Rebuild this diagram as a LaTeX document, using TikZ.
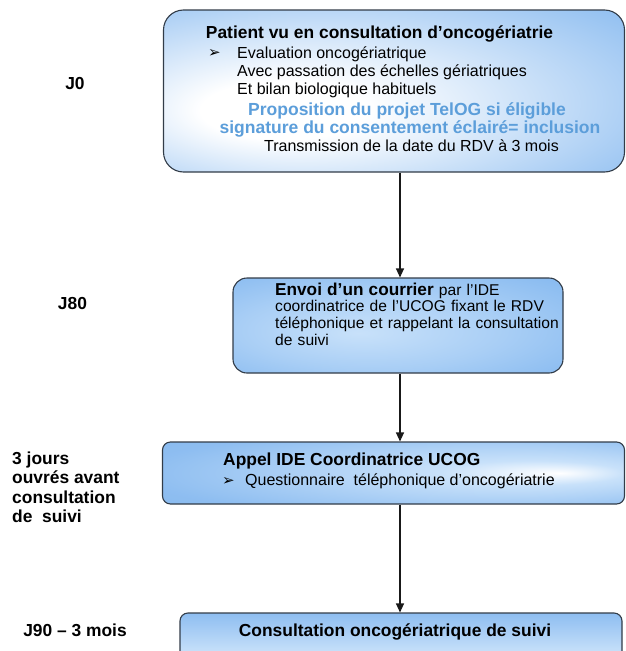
\documentclass[tikz,border=0pt]{standalone}
\usepackage{fontspec}
\setmainfont{Liberation Sans}
\newfontfamily\dejavu{DejaVu Sans}
\usetikzlibrary{arrows.meta}
\definecolor{boxblue}{RGB}{122,178,238}
\definecolor{boxlight}{RGB}{200,225,250}
\definecolor{bordercol}{RGB}{50,60,72}
\definecolor{bluetxt}{RGB}{92,158,218}
\pgfdeclareradialshading{glowA}{\pgfpoint{-14bp}{-7bp}}{color(0bp)=(white);color(9bp)=(white);color(40bp)=(boxblue!82!white);color(62bp)=(boxblue)}
\pgfdeclareradialshading{glowB}{\pgfpoint{-6bp}{-4bp}}{color(0bp)=(boxlight);color(20bp)=(boxlight!60!boxblue);color(45bp)=(boxblue);color(60bp)=(boxblue)}
\pgfdeclareradialshading{glowC}{\pgfpoint{18bp}{0bp}}{color(0bp)=(white);color(10bp)=(boxlight);color(35bp)=(boxblue!85!white);color(60bp)=(boxblue)}
\tikzset{
  flowbox/.style={draw=bordercol, line width=1.1pt, inner sep=0pt, shade},
  lbl/.style={font=\fontsize{17.4}{20}\selectfont\bfseries, inner sep=0pt},
  regtxt/.style={font=\fontsize{16}{18}\selectfont, inner sep=0pt},
  boldtxt/.style={font=\fontsize{17.4}{20}\selectfont\bfseries, inner sep=0pt},
  bluetext/.style={font=\fontsize{17.5}{20}\selectfont\bfseries, text=bluetxt, inner sep=0pt},
  bul/.style={font=\dejavu\bfseries\fontsize{15}{15}\selectfont, inner sep=0pt},
  flowarrow/.style={draw=black!90, line width=1.1pt, -{Triangle[length=9pt,width=8pt]}}
}
\begin{document}
\begin{tikzpicture}[x=1pt,y=-1pt]
\useasboundingbox (0,0) rectangle (626,651);
\clip (0,0) rectangle (626,651);

% boxes
\node[flowbox, shading=glowA, rounded corners=20pt, minimum width=461pt, minimum height=162pt] (b1) at (394,91) {};
\node[flowbox, shading=glowB, rounded corners=14pt, minimum width=330pt, minimum height=95pt] (b2) at (398,325.5) {};
\node[flowbox, shading=glowC, rounded corners=8pt, minimum width=462pt, minimum height=62pt] (b3) at (393.5,473) {};
\node[flowbox, top color=boxblue!85!white, bottom color=boxblue!60!white, middle color=boxlight, rounded corners=8pt, minimum width=442pt, minimum height=80pt] (b4) at (401,653) {};

% box 1 text
\node[boldtxt, anchor=base] (t1a) at (379.5,38) {Patient vu en consultation d’oncogériatrie};
\node[bul, anchor=base west] (t1b0) at (208,57.5) {➢};
\node[regtxt, anchor=base west] (t1b) at (237,58) {Evaluation oncogériatrique};
\node[regtxt, anchor=base west] (t1c) at (237,76.5) {Avec passation des échelles gériatriques};
\node[regtxt, anchor=base west] (t1d) at (237,94) {Et bilan biologique habituels};
\node[bluetext, anchor=base] (t1e) at (407,115) {Proposition du projet TelOG si éligible};
\node[bluetext, anchor=base] (t1f) at (410,133) {signature du consentement éclairé= inclusion};
\node[regtxt, anchor=base] (t1g) at (411.5,151.5) {Transmission de la date du RDV à 3 mois};

% box 2 text
\node[anchor=base west, inner sep=0pt, font=\fontsize{15.6}{16.8}\selectfont, align=left, text width=300pt] (t2) at (275,295) {{\fontsize{17.2}{16.8}\selectfont\bfseries Envoi d’un courrier} par l’IDE\\coordinatrice de l’UCOG fixant le RDV\\téléphonique et rappelant la consultation\\de suivi};

% box 3 text
\node[boldtxt, anchor=base west] (t3a) at (223,465) {Appel IDE Coordinatrice UCOG};
\node[bul, anchor=base west] (t3b0) at (222,485) {➢};
\node[regtxt, anchor=base west] (t3b) at (245,485.5) {Questionnaire\ \ téléphonique d’oncogériatrie};

% box 4 text
\node[boldtxt, anchor=base] (t4) at (395,636) {Consultation oncogériatrique de suivi};

% left labels
\node[lbl, anchor=base] (l0) at (75,89) {J0};
\node[lbl, anchor=base] (l80) at (72.5,309) {J80};
\node[lbl, anchor=base west] (l3a) at (12,464) {3 jours};
\node[lbl, anchor=base west] (l3b) at (12,483.5) {ouvrés avant};
\node[lbl, anchor=base west] (l3c) at (12,503) {consultation};
\node[lbl, anchor=base west] (l3d) at (12,522.5) {de\ \ suivi};
\node[lbl, anchor=base] (l90) at (75,636) {J90 – 3 mois};

% connectors
\coordinate (ax) at (400,0);
\draw[flowarrow] (b1.south -| ax) -- (b2.north -| ax);
\draw[flowarrow] (b2.south -| ax) -- (b3.north -| ax);
\draw[flowarrow] (b3.south -| ax) -- (b4.north -| ax);
\end{tikzpicture}
\end{document}
